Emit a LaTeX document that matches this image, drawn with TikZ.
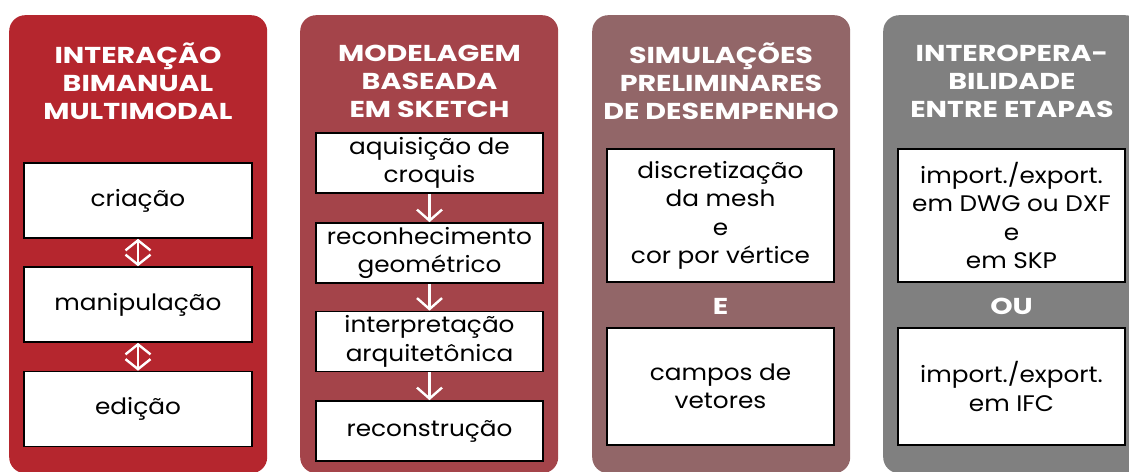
\documentclass[tikz,border=0pt]{standalone}
\usepackage{fontspec}
\setmainfont{Poppins}[FakeStretch=1.1]
\newfontfamily\headfont{Poppins}[FakeStretch=1.24]
\usetikzlibrary{arrows.meta}
\definecolor{redA}{RGB}{181,38,46}
\definecolor{redB}{RGB}{164,68,74}
\definecolor{redC}{RGB}{146,102,104}
\definecolor{greyD}{RGB}{128,128,128}

\begin{document}
\begin{tikzpicture}[x=1pt,y=-1pt,
	panel/.style={fill=#1, rounded corners=16pt, minimum width=258pt, minimum height=458pt, anchor=north west, inner sep=0pt},
	title/.style={text=white, font=\headfont\bfseries\fontsize{23}{28}\selectfont, align=center},
	box/.style={draw=black, line width=1.6pt, fill=white, inner sep=0pt, minimum width=227pt, font=\fontsize{22.5}{28.5}\selectfont, align=center},
	flow/.style={white, line width=2.4pt, -{Straight Barb[length=11pt,width=25pt]}},
	twoway/.style={white, line width=2.4pt, {Straight Barb[length=10pt,width=25pt]}-{Straight Barb[length=10pt,width=25pt]}}]
	\useasboundingbox (0,0) rectangle (1129,471);
	\clip (0,0) rectangle (1129,471);
	% panels
	\node[panel=redA] (p1) at (9,15) {};
	\node[panel=redB] (p2) at (300,15) {};
	\node[panel=redC] (p3) at (592,15) {};
	\node[panel=greyD] (p4) at (883,15) {};
	% titles
	\node[title] (t1) at (138,81) {INTERAÇÃO\\BIMANUAL\\MULTIMODAL};
	\node[title] (t2) at (429.5,81) {MODELAGEM\\BASEADA\\EM SKETCH};
	\node[title] (t3) at (721,81) {SIMULAÇÕES\\PRELIMINARES\\DE DESEMPENHO};
	\node[title] (t4) at (1012,81) {INTEROPERA-\\BILIDADE\\ENTRE ETAPAS};
	% interacao
	\node[box, minimum height=75pt, minimum width=228pt] (cri) at (138,200.5) {criação};
	\node[box, minimum height=75pt, minimum width=228pt] (man) at (138,304.5) {manipulação};
	\node[box, minimum height=75pt, minimum width=228pt] (edi) at (138,409) {edição};
	\draw[twoway] (cri) -- (man);
	\draw[twoway] (man) -- (edi);
	% modelagem
	\node[box, minimum height=60pt] (aqu) at (429.5,163) {aquisição de\\croquis};
	\node[box, minimum height=60pt] (rec) at (429.5,253) {reconhecimento\\geométrico};
	\node[box, minimum height=60pt] (int) at (429.5,341.5) {interpretação\\arquitetônica};
	\node[box, minimum height=60pt] (rcs) at (429.5,431) {reconstrução};
	\draw[flow] (aqu) -- (rec);
	\draw[flow] (rec) -- (int);
	\draw[flow] (int) -- (rcs);
	% simulacoes
	\node[box, minimum height=133pt] (dis) at (720.5,215.5) {discretização\\da mesh\\e\\cor por vértice};
	\node[title] (e) at (720.5,306) {E};
	\node[box, minimum height=117pt] (cam) at (720.5,386.5) {campos de\\vetores};
	% interoperabilidade
	\node[box, minimum height=133pt] (dwg) at (1011.5,215.5) {import./export.\\em DWG ou DXF\\e\\em SKP};
	\node[title] (ou) at (1011.5,306) {OU};
	\node[box, minimum height=117pt] (ifc) at (1011.5,386.5) {import./export.\\em IFC};
\end{tikzpicture}
\end{document}
